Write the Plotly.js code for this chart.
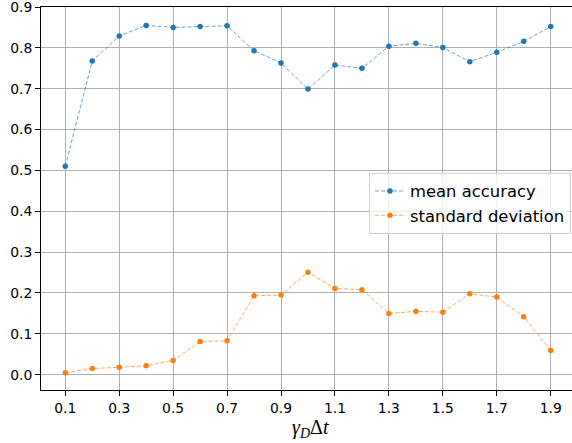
<!DOCTYPE html>
<html>
<head>
<meta charset="utf-8">
<script src="https://cdn.plot.ly/plotly-3.0.1.min.js"></script>
<style>
html,body{margin:0;padding:0;overflow:hidden;background:#fff;}
#chart{width:576px;height:443px;}
</style>
</head>
<body>
<div id="chart"></div>
<script>
var xValues = [0.1,0.2,0.3,0.4,0.5,0.6,0.7,0.8,0.9,1.0,1.1,1.2,1.3,1.4,1.5,1.6,1.7,1.8,1.9];
var meanAccuracy = [0.510,0.768,0.829,0.855,0.850,0.852,0.854,0.793,0.763,0.699,0.758,0.750,0.804,0.811,0.801,0.766,0.789,0.816,0.852];
var standardDeviation = [0.005,0.015,0.018,0.022,0.035,0.081,0.083,0.193,0.195,0.251,0.211,0.208,0.150,0.155,0.153,0.198,0.190,0.142,0.059];
var xTickVals = [0.1,0.3,0.5,0.7,0.9,1.1,1.3,1.5,1.7,1.9];
var xTickText = ['0.1','0.3','0.5','0.7','0.9','1.1','1.3','1.5','1.7','1.9'];
var yTickVals = [0.0,0.1,0.2,0.3,0.4,0.5,0.6,0.7,0.8,0.9];
var yTickText = ['0.0','0.1','0.2','0.3','0.4','0.5','0.6','0.7','0.8','0.9'];
var seriesNames = ['mean accuracy','standard deviation'];
var xTitle = '<i>γ</i><sub><i>D</i></sub>Δ<i>t</i>';

var tickFont = {family:'DejaVu Sans', size:13.9, color:'#000'};

var traces = [
  {x:xValues, y:meanAccuracy, name:seriesNames[0], mode:'lines+markers', type:'scatter',
   line:{color:'rgba(31,119,180,0.75)', width:0.9, dash:'4px,2px'},
   marker:{color:'#1f77b4', size:5.5}},
  {x:xValues, y:standardDeviation, name:seriesNames[1], mode:'lines+markers', type:'scatter',
   line:{color:'rgba(255,127,14,0.75)', width:0.9, dash:'4px,2px'},
   marker:{color:'#ff7f0e', size:5.5}}
];

var layout = {
  width:576, height:443,
  margin:{l:41, r:1, t:7, b:53, pad:0},
  paper_bgcolor:'#fff', plot_bgcolor:'#fff',
  showlegend:true,
  legend:{x:0.9925, xanchor:'right', y:0.567, yanchor:'top',
          bgcolor:'rgba(255,255,255,0.8)', bordercolor:'#d0d0d0', borderwidth:1,
          font:{family:'DejaVu Sans', size:16.4, color:'#000'}, tracegroupgap:0, itemwidth:30},
  xaxis:{range:[0.01,1.99], tickvals:xTickVals, ticktext:xTickText,
         showgrid:true, gridcolor:'#b0b0b0', gridwidth:1,
         showline:true, linecolor:'#000', linewidth:1, mirror:true,
         ticks:'outside', ticklen:5, tickwidth:1, tickcolor:'#000',
         tickfont:tickFont, zeroline:false},
  yaxis:{range:[-0.0375,0.9], tickvals:yTickVals, ticktext:yTickText,
         showgrid:true, gridcolor:'#b0b0b0', gridwidth:1,
         showline:true, linecolor:'#000', linewidth:1, mirror:false,
         ticks:'outside', ticklen:5, tickwidth:1, tickcolor:'#000',
         tickfont:tickFont, zeroline:false, ticklabeloverflow:'allow'},
  annotations:[
    {text:xTitle, xref:'paper', yref:'paper', x:0.504, y:-0.062, xanchor:'center', yanchor:'top',
     showarrow:false, font:{family:'Liberation Serif', size:20, color:'#000'}}
  ]
};

Plotly.newPlot('chart', traces, layout, {displayModeBar:false, staticPlot:true});
</script>
</body>
</html>
